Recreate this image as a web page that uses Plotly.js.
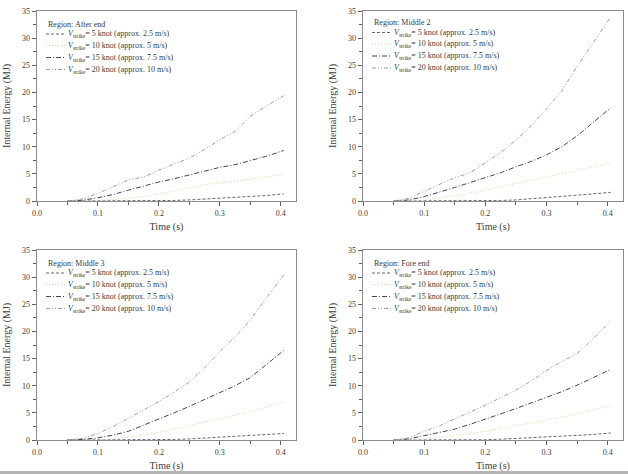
<!DOCTYPE html>
<html>
<head>
<meta charset="utf-8">
<script src="https://cdn.plot.ly/plotly-3.0.1.min.js"></script>
<style>
  html, body { margin: 0; padding: 0; background: #fff; }
  #chart { width: 628px; height: 474px; }
</style>
</head>
<body>
<div id="chart"></div>
<script>
// Sample times (s)
const time = [0.05, 0.075, 0.1, 0.125, 0.15, 0.175, 0.2, 0.225, 0.25, 0.275, 0.3, 0.325, 0.35, 0.375, 0.405];

// Series labels
const regions = ["After end", "Middle 2", "Middle 3", "Fore end"];
const speedKnots = [5, 10, 15, 20];
const speedMs = ["2.5", "5", "7.5", "10"];

// Internal energy (MJ) per region, one array per striking speed
const afterEnd5  = [0, 0, 0, 0, 0, 0.02, 0.05, 0.1, 0.2, 0.35, 0.5, 0.65, 0.8, 1.0, 1.3];
const afterEnd10 = [0, 0, 0.1, 0.25, 0.5, 0.85, 1.3, 1.8, 2.4, 3.0, 3.3, 3.6, 4.0, 4.4, 5.0];
const afterEnd15 = [0, 0.15, 0.6, 1.2, 2.0, 2.8, 3.5, 4.1, 4.8, 5.6, 6.2, 6.7, 7.4, 8.2, 9.3];
const afterEnd20 = [0, 0.4, 1.4, 2.6, 3.9, 4.4, 5.7, 6.8, 7.9, 9.5, 11.3, 12.8, 15.6, 17.4, 19.4];

const middle2_5  = [0, 0, 0, 0, 0, 0.02, 0.05, 0.1, 0.2, 0.4, 0.6, 0.8, 1.0, 1.3, 1.6];
const middle2_10 = [0, 0, 0.2, 0.5, 0.9, 1.4, 2.0, 2.6, 3.2, 3.8, 4.5, 5.1, 5.7, 6.3, 7.0];
const middle2_15 = [0, 0.2, 0.8, 1.6, 2.5, 3.4, 4.3, 5.2, 6.3, 7.3, 8.5, 10.0, 12.0, 14.3, 17.2];
const middle2_20 = [0, 0.5, 1.8, 3.0, 4.3, 5.2, 7.0, 8.9, 11.2, 13.9, 17.0, 20.3, 24.8, 29.0, 33.9];

const middle3_5  = [0, 0, 0, 0, 0, 0.02, 0.05, 0.1, 0.2, 0.35, 0.5, 0.7, 0.9, 1.05, 1.2];
const middle3_10 = [0, 0, 0.05, 0.2, 0.5, 0.9, 1.4, 2.0, 2.6, 3.3, 3.9, 4.6, 5.2, 6.0, 7.0];
const middle3_15 = [0, 0.1, 0.4, 0.9, 1.6, 2.7, 3.9, 5.0, 6.2, 7.5, 8.7, 10.0, 11.5, 13.8, 16.5];
const middle3_20 = [0, 0.3, 1.2, 2.5, 4.0, 5.5, 7.1, 8.8, 10.7, 13.3, 16.3, 19.0, 22.1, 26.0, 30.4];

const foreEnd5  = [0, 0, 0, 0, 0, 0.02, 0.05, 0.15, 0.3, 0.4, 0.5, 0.65, 0.8, 1.0, 1.3];
const foreEnd10 = [0, 0, 0.2, 0.5, 0.8, 1.2, 1.6, 2.1, 2.6, 3.1, 3.7, 4.2, 4.8, 5.5, 6.4];
const foreEnd15 = [0, 0.2, 0.8, 1.4, 2.0, 2.9, 3.8, 4.8, 5.8, 6.8, 7.8, 8.9, 10.1, 11.4, 13.0];
const foreEnd20 = [0, 0.4, 1.6, 2.6, 3.9, 5.1, 6.4, 7.8, 9.2, 10.9, 12.8, 14.5, 15.9, 18.5, 22.0];

const regionSeries = [
  [afterEnd5, afterEnd10, afterEnd15, afterEnd20],
  [middle2_5, middle2_10, middle2_15, middle2_20],
  [middle3_5, middle3_10, middle3_15, middle3_20],
  [foreEnd5, foreEnd10, foreEnd15, foreEnd20]
];

// Styling
const W = 628, H = 474;
const SERIF = "Liberation Serif, Times New Roman, serif";
const TEXT = "#3c3c3c";
const lineColors = ["#6b6274", "#d0d79e", "#45454f", "#93a78f"];
const lineDashes = ["3px,2px", "1px,2px", "5px,2px,1px,2px", "4px,2px,1px,2px,1px,2px"];
const frameColor = "#8c8c8c";

// Plot-area boxes in pixels: [left, top, right, bottom]
const boxes = [
  [37, 11, 296, 201],
  [363, 11, 623, 201],
  [37, 250, 296, 440],
  [363, 250, 623, 440]
];

const px2x = p => p / W;
const px2y = p => 1 - p / H;

const traces = [];
const layout = {
  width: W, height: H,
  margin: {l: 0, r: 0, t: 0, b: 0},
  paper_bgcolor: "#fff",
  plot_bgcolor: "#fff",
  showlegend: false,
  font: {family: SERIF, color: TEXT},
  shapes: [],
  annotations: []
};

boxes.forEach((b, i) => {
  const n = i + 1;
  const xa = "xaxis" + (n === 1 ? "" : n);
  const ya = "yaxis" + (n === 1 ? "" : n);
  const xr = "x" + (n === 1 ? "" : n);
  const yr = "y" + (n === 1 ? "" : n);

  regionSeries[i].forEach((vals, k) => {
    traces.push({
      type: "scatter", mode: "lines",
      x: time, y: vals,
      xaxis: xr, yaxis: yr,
      name: speedKnots[k] + " knot",
      line: {color: lineColors[k], width: 1, dash: lineDashes[k]},
      hoverinfo: "x+y"
    });
  });

  const axisCommon = {
    showgrid: false, zeroline: false,
    showline: true, mirror: true,
    linecolor: frameColor, linewidth: 1.3,
    ticks: "outside", ticklen: 4, tickwidth: 1, tickcolor: "#606060",
    tickfont: {family: SERIF, size: 8, color: TEXT},
    fixedrange: true
  };

  layout[xa] = Object.assign({}, axisCommon, {
    domain: [px2x(b[0]), px2x(b[2])],
    anchor: yr,
    range: [0, 0.425],
    dtick: 0.1, tick0: 0, tickformat: ".1f",
    minor: {dtick: 0.05, ticklen: 2.5, tickcolor: "#606060", ticks: "outside"},
    title: {text: "Time (s)", font: {family: SERIF, size: 10, color: TEXT}, standoff: 6}
  });
  layout[ya] = Object.assign({}, axisCommon, {
    domain: [px2y(b[3]), px2y(b[1])],
    anchor: xr,
    range: [0, 35],
    dtick: 5, tick0: 0,
    minor: {dtick: 2.5, ticklen: 2.5, tickcolor: "#606060", ticks: "outside"},
    title: {text: "Internal Energy (MJ)", font: {family: SERIF, size: 10, color: TEXT}, standoff: 9}
  });

  // Legend block inside the top-left corner of each panel
  const L = b[0], T = b[1];
  const shift = (n === 2) ? -1.5 : 0;
  const legFont = {family: SERIF, size: 8, color: TEXT};
  layout.annotations.push({
    xref: "paper", yref: "paper",
    x: px2x(L + 9), y: px2y(T + 13 + shift),
    xanchor: "left", yanchor: "middle",
    text: "Region: " + regions[i],
    showarrow: false, font: legFont
  });
  const rowY = [23, 34.5, 46.5, 58.5];
  speedKnots.forEach((kn, k) => {
    const yy = T + rowY[k] + shift;
    layout.shapes.push({
      type: "line", xref: "paper", yref: "paper",
      x0: px2x(L + 9), x1: px2x(L + 28), y0: px2y(yy), y1: px2y(yy),
      line: {color: lineColors[k], width: 1, dash: lineDashes[k]}
    });
    layout.annotations.push({
      xref: "paper", yref: "paper",
      x: px2x(L + 29), y: px2y(yy),
      xanchor: "left", yanchor: "middle",
      text: "<i>V</i><sub>strike</sub>= " + kn + " knot (approx. " + speedMs[k] + " m/s)",
      showarrow: false, font: legFont
    });
  });
});

// Grey strip along the bottom edge
layout.shapes.push({
  type: "rect", xref: "paper", yref: "paper",
  x0: 0, x1: 1, y0: 0, y1: 3 / H,
  fillcolor: "#b4b4b4", line: {width: 0}, layer: "below"
});

Plotly.newPlot("chart", traces, layout, {displayModeBar: false, staticPlot: true});
</script>
</body>
</html>
